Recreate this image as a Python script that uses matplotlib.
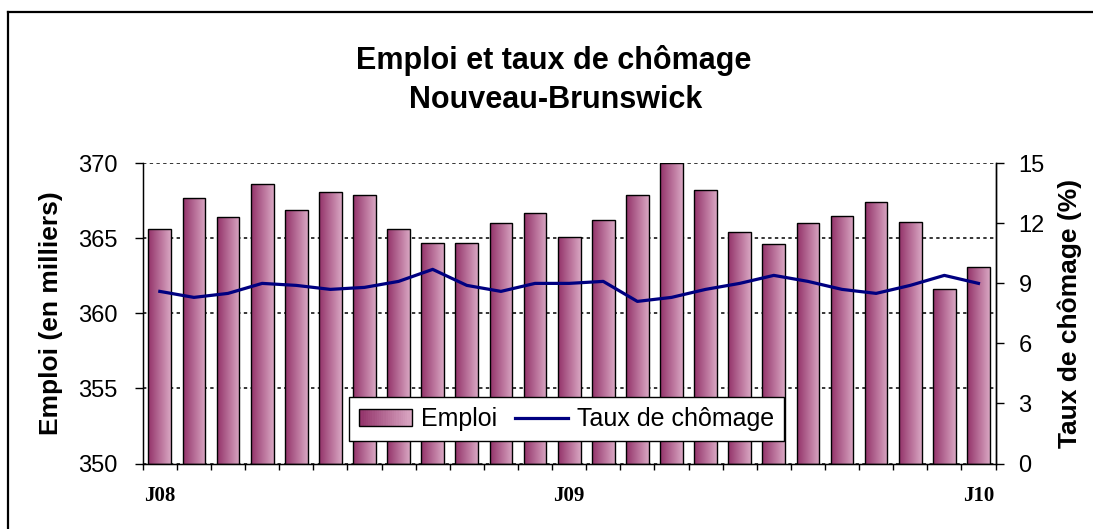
import numpy as np
import matplotlib
matplotlib.use("Agg")
import matplotlib.pyplot as plt
from matplotlib.lines import Line2D
from matplotlib.patches import Rectangle
from matplotlib.colors import LinearSegmentedColormap

# Donnees (janvier 2008 a janvier 2010)
mois = ["J08", "F08", "M08", "A08", "M08", "J08", "J08", "A08", "S08", "O08", "N08", "D08",
        "J09", "F09", "M09", "A09", "M09", "J09", "J09", "A09", "S09", "O09", "N09", "D09",
        "J10"]
emploi = [365.6, 367.7, 366.4, 368.6, 366.9, 368.1, 367.9, 365.6, 364.7, 364.7, 366.0, 366.7,
          365.1, 366.2, 367.9, 370.0, 368.2, 365.4, 364.6, 366.0, 366.5, 367.4, 366.1, 361.6,
          363.1]
chomage = [8.6, 8.3, 8.5, 9.0, 8.9, 8.7, 8.8, 9.1, 9.7, 8.9, 8.6, 9.0,
           9.0, 9.1, 8.1, 8.3, 8.7, 9.0, 9.4, 9.1, 8.7, 8.5, 8.9, 9.4, 9.0]
etiquettes_x = {0: "J08", 12: "J09", 24: "J10"}

COUL_SOMBRE = "#93336a"
COUL_CLAIRE = "#d9a6c2"
COUL_LIGNE = "#000080"
degrade = LinearSegmentedColormap.from_list("degrade", [COUL_SOMBRE, COUL_CLAIRE])

plt.rcParams["font.family"] = ["Liberation Sans", "DejaVu Sans"]


class HandlerDegrade:
    """Case de legende remplie d'un degrade horizontal."""

    def legend_artist(self, legend, orig_handle, fontsize, handlebox):
        y0 = handlebox.ydescent
        w, h = handlebox.width, handlebox.height
        n = 24
        for i in range(n):
            r = Rectangle((i * w / n, -y0), w / n + 0.3, h,
                          facecolor=degrade(i / (n - 1)), edgecolor="none",
                          transform=handlebox.get_transform())
            handlebox.add_artist(r)
        cadre = Rectangle((0, -y0), w, h, facecolor="none", edgecolor="black",
                          linewidth=1.0, transform=handlebox.get_transform())
        handlebox.add_artist(cadre)
        return cadre


fig = plt.figure(figsize=(10.93, 5.29), dpi=100)
ax = fig.add_axes([0.1306, 0.1238, 0.7802, 0.5675])

x = np.arange(len(emploi))
largeur = 0.667
barres = ax.bar(x, np.array(emploi) - 350, bottom=350, width=largeur,
                facecolor="none", edgecolor="black", linewidth=1.0, zorder=3)
grad = np.linspace(0, 1, 64).reshape(1, -1)
for b in barres:
    im = ax.imshow(grad, cmap=degrade, aspect="auto", zorder=2,
                   extent=[b.get_x(), b.get_x() + b.get_width(), 350, 350 + b.get_height()])
    im.set_clip_path(b)

ax.set_xlim(-0.5, len(emploi) - 0.5)
ax.set_ylim(350, 370)
ax.set_yticks([350, 355, 360, 365, 370])
ax.yaxis.grid(True, color="black", linestyle=(0, (2.2, 2.2)), linewidth=1.1)
ax.set_axisbelow(True)
ax.tick_params(axis="y", direction="out", length=6, width=1, labelsize=17, pad=12)

# graduations aux limites des mois, etiquettes au centre
ax.set_xticks(np.arange(-0.5, len(emploi), 1.0))
ax.set_xticklabels([])
ax.tick_params(axis="x", which="major", direction="out", length=4.5, width=1)
ax.set_xticks(list(etiquettes_x.keys()), minor=True)
ax.set_xticklabels(list(etiquettes_x.values()), minor=True,
                   fontfamily="Liberation Serif", fontweight="bold", fontsize=15)
ax.tick_params(axis="x", which="minor", length=0, pad=16)

for cote in ["left", "bottom", "right"]:
    ax.spines[cote].set_linewidth(1.0)
ax.spines["top"].set_visible(False)

ax.set_ylabel("Emploi (en milliers)", fontsize=19, fontweight="bold", labelpad=11)

ax2 = ax.twinx()
ax2.plot(x, chomage, color=COUL_LIGNE, linewidth=2.3, zorder=4)
ax2.set_ylim(0, 15)
ax2.set_yticks([0, 3, 6, 9, 12, 15])
ax2.tick_params(axis="y", direction="out", length=6, width=1, labelsize=17, pad=10.5)
ax2.spines["top"].set_visible(False)
ax2.spines["right"].set_linewidth(1.0)
ax2.set_ylabel("Taux de chômage (%)", fontsize=19, fontweight="bold", labelpad=9)

poignees = [Rectangle((0, 0), 1, 1), Line2D([], [], color=COUL_LIGNE, linewidth=2.3)]
leg = ax2.legend(poignees, ["Emploi", "Taux de chômage"], ncol=2,
                 handler_map={Rectangle: HandlerDegrade()},
                 loc="center", bbox_to_anchor=(0.5183, 0.2070),
                 bbox_transform=fig.transFigure, fontsize=18, frameon=True,
                 fancybox=False, edgecolor="black", framealpha=1.0,
                 borderpad=0.4, handlelength=2.1, handletextpad=0.35,
                 columnspacing=0.75, borderaxespad=0)
leg.get_frame().set_linewidth(1.0)

fig.text(0.507, 1 - 61 / 529, "Emploi et taux de chômage", ha="center", va="center",
         fontsize=22, fontweight="bold")
fig.text(0.508, 1 - 100 / 529, "Nouveau-Brunswick", ha="center", va="center",
         fontsize=22, fontweight="bold")

# cadre exterieur (seuls les bords gauche et haut sont visibles)
fig.add_artist(Line2D([8 / 1093, 8 / 1093], [0, 1 - 12 / 529], color="black",
                      linewidth=1.6, transform=fig.transFigure))
fig.add_artist(Line2D([8 / 1093, 1], [1 - 12 / 529, 1 - 12 / 529], color="black",
                      linewidth=1.6, transform=fig.transFigure))

fig.savefig("out.png", dpi=100)
